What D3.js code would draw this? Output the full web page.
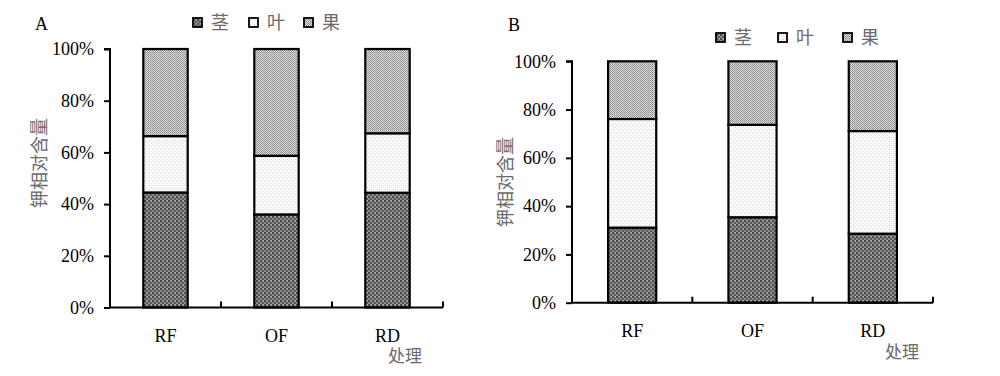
<!DOCTYPE html>
<html>
<head>
<meta charset="utf-8">
<script src="https://cdn.jsdelivr.net/npm/d3@7"></script>
<style>
  body { margin: 0; background: #fff; }
  svg { display: block; }
</style>
</head>
<body>
<div id="chart"></div>
<script>
// data
const categories = ["RF", "OF", "RD"];
const seriesNames = ["茎", "叶", "果"];
const yTicks = [0, 20, 40, 60, 80, 100];

// panel A
const stemA = [44.5, 36.0, 44.4];
const leafA = [21.8, 22.7, 23.0];
const fruitA = [33.7, 41.3, 32.6];

// panel B
const stemB = [31.1, 35.4, 28.6];
const leafB = [45.0, 38.3, 42.5];
const fruitB = [23.9, 26.3, 28.9];

const width = 1000, height = 376;
const serif = "'Liberation Serif', 'Times New Roman', serif";
const cjk = "'Noto Sans CJK SC', sans-serif";
const labelGray = "#6a6a6a";

const svg = d3.select("#chart").append("svg")
  .attr("width", width)
  .attr("height", height);

// fill patterns
const defs = svg.append("defs");

const pStem = defs.append("pattern").attr("id", "p-stem")
  .attr("patternUnits", "userSpaceOnUse").attr("width", 4).attr("height", 4);
pStem.append("rect").attr("width", 4).attr("height", 4).attr("fill", "#8a8a8a");
pStem.append("rect").attr("x", 0).attr("y", 0).attr("width", 2).attr("height", 2).attr("fill", "#4a4a4a");
pStem.append("rect").attr("x", 2).attr("y", 2).attr("width", 2).attr("height", 2).attr("fill", "#5a5a5a");
pStem.append("rect").attr("x", 3).attr("y", 0).attr("width", 1).attr("height", 1).attr("fill", "#c0c0c0");

const pLeaf = defs.append("pattern").attr("id", "p-leaf")
  .attr("patternUnits", "userSpaceOnUse").attr("width", 4).attr("height", 4);
pLeaf.append("rect").attr("width", 4).attr("height", 4).attr("fill", "#fafafa");
pLeaf.append("rect").attr("x", 1).attr("y", 1).attr("width", 1).attr("height", 1).attr("fill", "#c8c8c8");
pLeaf.append("rect").attr("x", 3).attr("y", 3).attr("width", 1).attr("height", 1).attr("fill", "#dedede");

const pFruit = defs.append("pattern").attr("id", "p-fruit")
  .attr("patternUnits", "userSpaceOnUse").attr("width", 2).attr("height", 2);
pFruit.append("rect").attr("width", 2).attr("height", 2).attr("fill", "#dcdcdc");
pFruit.append("rect").attr("x", 0).attr("y", 0).attr("width", 1).attr("height", 1).attr("fill", "#888");
pFruit.append("rect").attr("x", 1).attr("y", 1).attr("width", 1).attr("height", 1).attr("fill", "#9c9c9c");

const fills = ["url(#p-stem)", "url(#p-leaf)", "url(#p-fruit)"];

function drawPanel(opt) {
  const { letter, stem, leaf, fruit, x0, x1, y0, y1 } = opt;

  const rows = categories.map((c, i) => ({ cat: c, s0: stem[i], s1: leaf[i], s2: fruit[i] }));
  const stacked = d3.stack().keys(["s0", "s1", "s2"])(rows);

  const x = d3.scaleBand().domain(categories).range([x0, x1]).padding(0);
  const y = d3.scaleLinear().domain([0, 100]).range([y0, y1]);
  const barW = x.bandwidth() * 0.4;

  const g = svg.append("g");

  // bars
  g.selectAll("g.layer")
    .data(stacked)
    .join("g")
      .attr("class", "layer")
      .attr("fill", (d, i) => fills[i])
    .selectAll("rect")
    .data(d => d)
    .join("rect")
      .attr("x", d => x(d.data.cat) + (x.bandwidth() - barW) / 2)
      .attr("y", d => y(d[1]))
      .attr("width", barW)
      .attr("height", d => y(d[0]) - y(d[1]))
      .attr("stroke", "#000")
      .attr("stroke-width", 2.2);

  // y axis
  const yAxis = g.append("g")
    .attr("transform", `translate(${x0},0)`)
    .call(d3.axisLeft(y).tickValues(yTicks).tickFormat(d => d + "%").tickSize(6).tickPadding(10));
  yAxis.select(".domain").attr("stroke-width", 2).attr("d", `M-6,${y(100)}H0V${y(0)}`);
  yAxis.selectAll(".tick line").attr("stroke-width", 2);
  yAxis.selectAll("text").attr("font-family", serif).attr("font-size", 18).attr("fill", "#000");

  // x axis with ticks at band edges, pointing up
  const edges = categories.map(c => x(c)).concat([x1]);
  g.append("line")
    .attr("x1", x0).attr("x2", x1).attr("y1", y0).attr("y2", y0)
    .attr("stroke", "#000").attr("stroke-width", 2);
  g.selectAll("line.xt")
    .data(edges.slice(1))
    .join("line")
      .attr("class", "xt")
      .attr("x1", d => d).attr("x2", d => d)
      .attr("y1", y0).attr("y2", y0 - 6)
      .attr("stroke", "#000").attr("stroke-width", 2);

  g.selectAll("text.cat")
    .data(categories)
    .join("text")
      .attr("class", "cat")
      .attr("x", d => x(d) + x.bandwidth() / 2)
      .attr("y", opt.catY)
      .attr("text-anchor", "middle")
      .attr("font-family", serif)
      .attr("font-size", 18)
      .text(d => d);

  // axis titles
  g.append("text")
    .attr("transform", `translate(${opt.ylabX},${opt.ylabY}) rotate(-90)`)
    .attr("text-anchor", "middle")
    .attr("font-family", cjk)
    .attr("font-size", 18)
    .attr("fill", labelGray)
    .text("钾相对含量");

  g.append("text")
    .attr("x", opt.xlabX).attr("y", opt.xlabY)
    .attr("font-family", cjk)
    .attr("font-size", 17)
    .attr("fill", labelGray)
    .text("处理");

  g.append("text")
    .attr("x", opt.letterX).attr("y", opt.letterY)
    .attr("font-family", serif)
    .attr("font-size", 18)
    .text(letter);

  // legend
  const lg = g.append("g").attr("transform", `translate(${opt.legX},${opt.legY})`);
  const item = lg.selectAll("g")
    .data(seriesNames)
    .join("g")
      .attr("transform", (d, i) => `translate(${opt.legStep[i]},0)`);
  item.append("rect")
    .attr("x", 0).attr("y", -5).attr("width", 9).attr("height", 9)
    .attr("fill", (d, i) => fills[i])
    .attr("stroke", "#000").attr("stroke-width", 1.8);
  item.append("text")
    .attr("x", 18).attr("y", 6)
    .attr("font-family", cjk)
    .attr("font-size", 18)
    .attr("fill", labelGray)
    .text(d => d);
}

drawPanel({
  letter: "A", stem: stemA, leaf: leafA, fruit: fruitA,
  x0: 110, x1: 443, y0: 307.5, y1: 49,
  catY: 342, ylabX: 46, ylabY: 163, xlabX: 388, xlabY: 362,
  letterX: 35, letterY: 30,
  legX: 193, legY: 23, legStep: [0, 56, 111]
});

drawPanel({
  letter: "B", stem: stemB, leaf: leafB, fruit: fruitB,
  x0: 572, x1: 933, y0: 302.7, y1: 61.3,
  catY: 337, ylabX: 512, ylabY: 182, xlabX: 885, xlabY: 358,
  letterX: 508, letterY: 31,
  legX: 716, legY: 38, legStep: [0, 62, 127]
});
</script>
</body>
</html>
